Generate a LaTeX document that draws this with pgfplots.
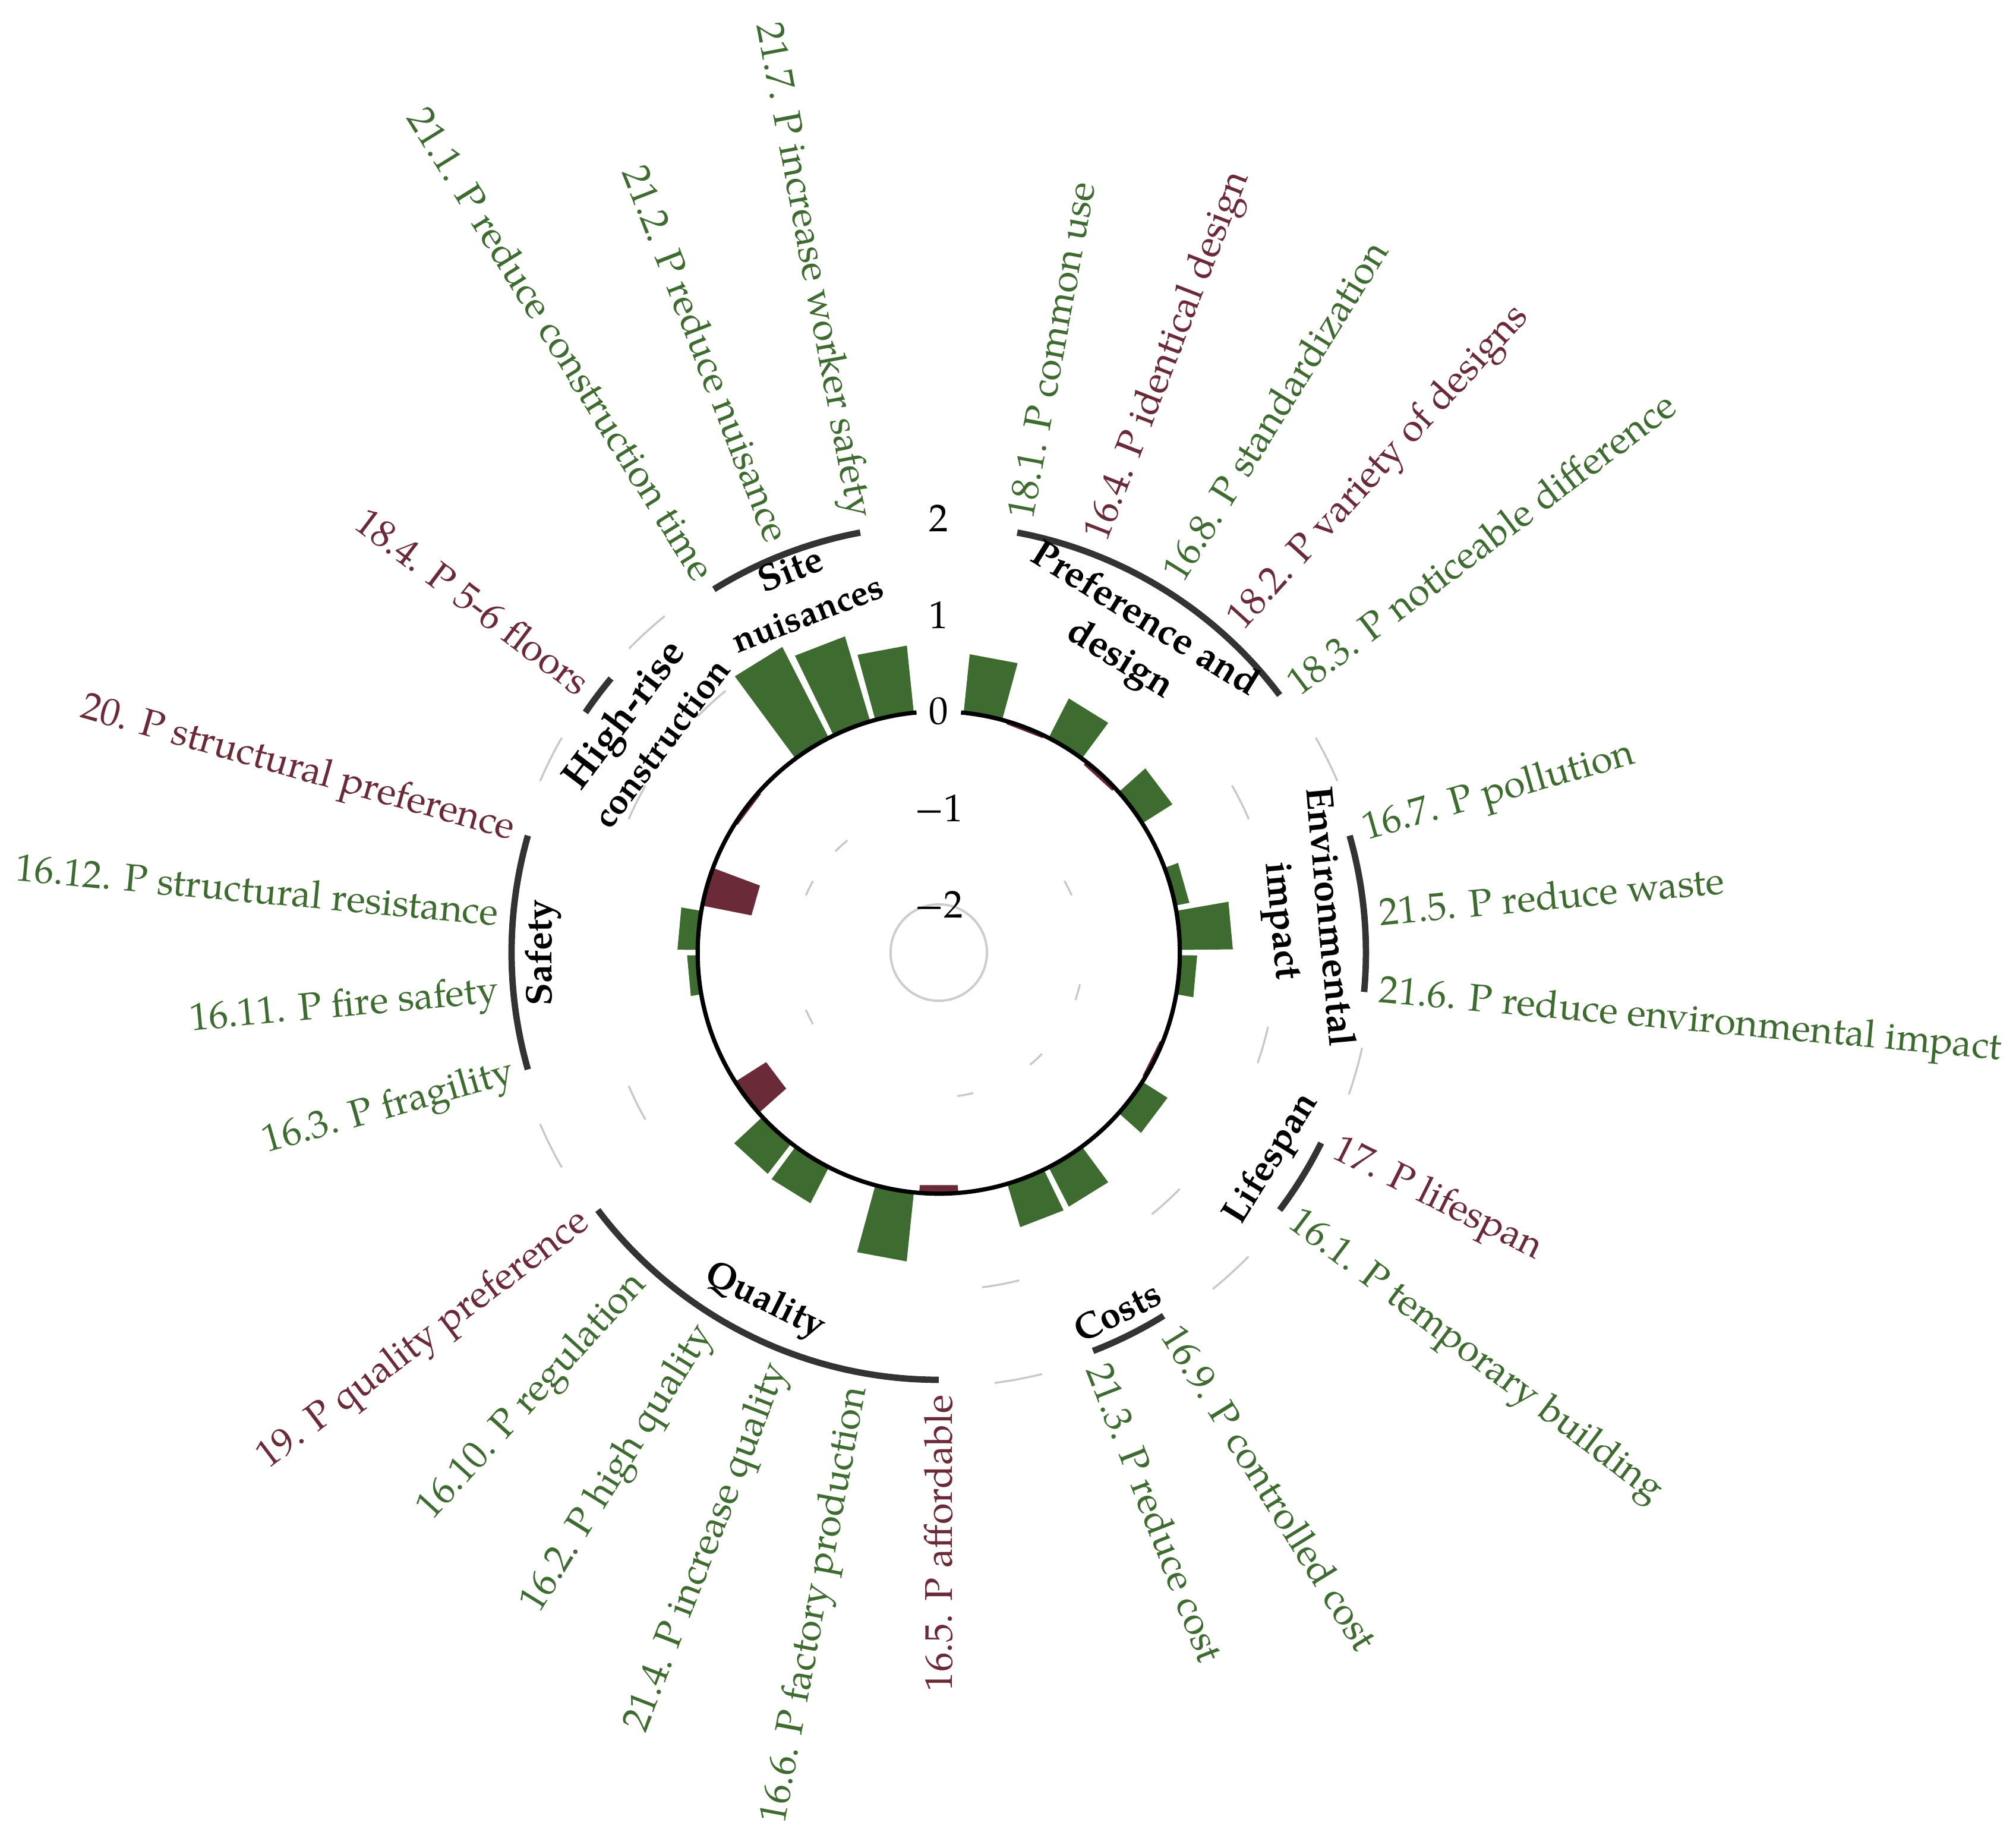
\documentclass[border=0pt]{standalone}
\usepackage{pgfplots}
\pgfplotsset{compat=1.18}
\usepgfplotslibrary{polar}
\usetikzlibrary{calc}
\usepackage{fontspec}
\setmainfont{TeX Gyre Pagella}
\definecolor{cg}{HTML}{3E6B2F}
\definecolor{cm}{HTML}{6B2A37}
\definecolor{arcc}{HTML}{333333}
\definecolor{gridc}{HTML}{C8C8C8}
\newcommand\lab{\fontsize{10.9}{13}\selectfont}
\newcommand\grp{\fontsize{10.5}{13.2}\selectfont\bfseries}
\newcommand\gs[1]{\fontsize{#1}{13.2}\selectfont}
\begin{document}
\begin{tikzpicture}
\begin{polaraxis}[
  hide axis, clip=false, scale only axis,
  width=9.567cm, height=9.567cm,
  xmin=0, xmax=360, ymin=0, ymax=5,
  % x = slot index (34 slots, clockwise from top), y = value (0 on the black circle)
  x filter/.expression={mod(450-x*360/34,360)},
  y filter/.expression={y+2.5},
  every axis plot/.append style={mark=none, draw=none},
]
% Preference and design
\addplot[fill=cg] coordinates {(0.56,0) (0.56,0.61) (1.44,0.61) (1.44,0)};
\addplot[fill=cm] coordinates {(1.56,0) (1.56,-0.03) (2.44,-0.03) (2.44,0)};
\addplot[fill=cg] coordinates {(2.56,0) (2.56,0.46) (3.44,0.46) (3.44,0)};
\addplot[fill=cm] coordinates {(3.56,0) (3.56,-0.04) (4.44,-0.04) (4.44,0)};
\addplot[fill=cg] coordinates {(4.56,0) (4.56,0.37) (5.44,0.37) (5.44,0)};
% Environmental impact
\addplot[fill=cg] coordinates {(6.56,0) (6.56,0.15) (7.44,0.15) (7.44,0)};
\addplot[fill=cg] coordinates {(7.56,0) (7.56,0.55) (8.44,0.55) (8.44,0)};
\addplot[fill=cg] coordinates {(8.56,0) (8.56,0.18) (9.44,0.18) (9.44,0)};
% Lifespan
\addplot[fill=cm] coordinates {(10.56,0) (10.56,-0.03) (11.44,-0.03) (11.44,0)};
\addplot[fill=cg] coordinates {(11.56,0) (11.56,0.31) (12.44,0.31) (12.44,0)};
% Costs
\addplot[fill=cg] coordinates {(13.56,0) (13.56,0.46) (14.44,0.46) (14.44,0)};
\addplot[fill=cg] coordinates {(14.56,0) (14.56,0.47) (15.44,0.47) (15.44,0)};
% Quality
\addplot[fill=cm] coordinates {(16.56,0) (16.56,-0.08) (17.44,-0.08) (17.44,0)};
\addplot[fill=cg] coordinates {(17.56,0) (17.56,0.72) (18.44,0.72) (18.44,0)};
\addplot[fill=cg] coordinates {(18.56,0) (18.56,0.02) (19.44,0.02) (19.44,0)};
\addplot[fill=cg] coordinates {(19.56,0) (19.56,0.42) (20.44,0.42) (20.44,0)};
\addplot[fill=cg] coordinates {(20.56,0) (20.56,0.40) (21.44,0.40) (21.44,0)};
\addplot[fill=cm] coordinates {(21.56,0) (21.56,-0.38) (22.44,-0.38) (22.44,0)};
% Safety
\addplot[fill=cg] coordinates {(23.56,0) (23.56,0.02) (24.44,0.02) (24.44,0)};
\addplot[fill=cg] coordinates {(24.56,0) (24.56,0.11) (25.44,0.11) (25.44,0)};
\addplot[fill=cg] coordinates {(25.56,0) (25.56,0.21) (26.44,0.21) (26.44,0)};
\addplot[fill=cm] coordinates {(26.56,0) (26.56,-0.52) (27.44,-0.52) (27.44,0)};
% High-rise construction
\addplot[fill=cm] coordinates {(28.56,0) (28.56,-0.03) (29.44,-0.03) (29.44,0)};
% Site nuisances
\addplot[fill=cg] coordinates {(30.56,0) (30.56,1.06) (31.44,1.06) (31.44,0)};
\addplot[fill=cg] coordinates {(31.56,0) (31.56,0.92) (32.44,0.92) (32.44,0)};
\addplot[fill=cg] coordinates {(32.56,0) (32.56,0.70) (33.44,0.70) (33.44,0)};
\coordinate (O) at (axis cs:0,0);
\coordinate (E) at (axis cs:0,1);
\end{polaraxis}
\path let \p1=($(E)-(O)$), \n1={veclen(\x1,\y1)} in \pgfextra{\xdef\Upt{\n1}};
\begin{scope}[shift={(O)}, x=\Upt, y=\Upt]
% inner grey circle (value -2)
\draw[gray!40, line width=0.65pt] (0,0) circle[radius={0.5*\Upt}];
% zero line
\draw[black, line width=1.2pt] (84.7:2.5) arc[start angle=84.7, end angle=-264.7, radius={2.5*\Upt}];
% grid pieces in the gaps
\foreach \g in {6,10,13,16,23,28,30}{
  \foreach \r in {4.5,3.5,1.5}{
    \draw[gridc, line width=0.55pt] ({90-\g*360/34+3.2}:\r) arc[start angle={90-\g*360/34+3.2}, end angle={90-\g*360/34-3.2}, radius={\r*\Upt}];
  }
}
% scale labels
\node[font=\lab] at (90:4.5) {2};
\node[font=\lab] at (90:3.5) {1};
\node[font=\lab] at (90:2.5) {0};
\node[font=\lab] at (90:1.5) {−1};
\node[font=\lab] at (90:0.5) {−2};
% group arcs
\tikzset{garc/.style={arcc, line width=1.8pt}}
\draw[garc] (79.412:4.43) arc[start angle=79.412, end angle=37.059, radius={4.43*\Upt}];
\draw[garc] (15.882:4.43) arc[start angle=15.882, end angle=-5.294, radius={4.43*\Upt}];
\draw[garc] (-26.471:4.43) arc[start angle=-26.471, end angle=-37.059, radius={4.43*\Upt}];
\draw[garc] (-58.235:4.43) arc[start angle=-58.235, end angle=-68.824, radius={4.43*\Upt}];
\draw[garc] (-90:4.43) arc[start angle=-90, end angle=-142.941, radius={4.43*\Upt}];
\draw[garc] (-164.118:4.43) arc[start angle=-164.118, end angle=-195.882, radius={4.43*\Upt}];
\draw[garc] (145.8:4.43) arc[start angle=145.8, end angle=140.1, radius={4.43*\Upt}];
\draw[garc] (121.765:4.43) arc[start angle=121.765, end angle=100.588, radius={4.43*\Upt}];
% group labels
\tikzset{gl/.style={font=\grp, align=center, inner sep=0pt}}
\node[gl, rotate=-31.765] at (58.235:3.8) {\gs{10.8}Preference and\\\gs{10.8}design};
\node[gl, rotate=-84.706] at (5.294:3.8) {\gs{10.8}Environmental\\\gs{10.8}impact};
\node[gl, rotate=58.235] at (-31.765:4.07) {\gs{10.4}Lifespan};
\node[gl, rotate=26.471] at (-63.529:4.16) {\gs{10.4}Costs};
\node[gl, rotate=-26.471] at (-116.471:4.05) {\gs{10.4}Quality};
\node[gl, rotate=90] at (180:4.1) {\gs{10.4}Safety};
\node[gl, rotate=52.941] at (142.941:3.87) {\gs{11.3}High-rise\\\gs{10}construction};
\node[gl, rotate=21.176] at (111.176:4.02) {\gs{10.5}Site\\\gs{10}nuisances};
% item labels
\tikzset{rl/.style={font=\lab, anchor=west, inner sep=0pt}, ll/.style={font=\lab, anchor=east, inner sep=0pt}}
\node[rl, text=cg, rotate=79.412] at (79.412:4.58) {18.1. P common use};
\node[rl, text=cm, rotate=68.824] at (68.824:4.58) {16.4. P identical design};
\node[rl, text=cg, rotate=58.235] at (58.235:4.58) {16.8. P standardization};
\node[rl, text=cm, rotate=47.647] at (47.647:4.58) {18.2. P variety of designs};
\node[rl, text=cg, rotate=37.059] at (37.059:4.58) {18.3. P noticeable difference};
\node[rl, text=cg, rotate=15.882] at (15.882:4.58) {16.7. P pollution};
\node[rl, text=cg, rotate=5.294] at (5.294:4.58) {21.5. P reduce waste};
\node[rl, text=cg, rotate=-5.294] at (-5.294:4.58) {21.6. P reduce environmental impact};
\node[rl, text=cm, rotate=-26.471] at (-26.471:4.58) {17. P lifespan};
\node[rl, text=cg, rotate=-37.059] at (-37.059:4.58) {16.1. P temporary building};
\node[rl, text=cg, rotate=-58.235] at (-58.235:4.58) {16.9. P controlled cost};
\node[rl, text=cg, rotate=-68.824] at (-68.824:4.58) {21.3. P reduce cost};
\node[ll, text=cm, rotate=90] at (-90:4.58) {16.5. P affordable};
\node[ll, text=cg, rotate=79.412] at (-100.588:4.58) {16.6. P factory production};
\node[ll, text=cg, rotate=68.824] at (-111.176:4.58) {21.4. P increase quality};
\node[ll, text=cg, rotate=58.235] at (-121.765:4.58) {16.2. P high quality};
\node[ll, text=cg, rotate=47.647] at (-132.353:4.58) {16.10. P regulation};
\node[ll, text=cm, rotate=37.059] at (-142.941:4.58) {19. P quality preference};
\node[ll, text=cg, rotate=15.882] at (-164.118:4.58) {16.3. P fragility};
\node[ll, text=cg, rotate=5.294] at (-174.706:4.58) {16.11. P fire safety};
\node[ll, text=cg, rotate=-5.294] at (174.706:4.58) {16.12. P structural resistance};
\node[ll, text=cm, rotate=-15.882] at (164.118:4.58) {20. P structural preference};
\node[ll, text=cm, rotate=-37.059] at (142.941:4.58) {18.4. P 5-6 floors};
\node[ll, text=cg, rotate=-58.235] at (121.765:4.58) {21.1. P reduce construction time};
\node[ll, text=cg, rotate=-68.824] at (111.176:4.58) {21.2. P reduce nuisance};
\node[ll, text=cg, rotate=-79.412] at (100.588:4.58) {21.7. P increase worker safety};
\end{scope}
\pgfresetboundingbox
\path ($(O)+(-9.313,-8.753)$) rectangle ($(O)+(10.687,9.449)$);
\end{tikzpicture}
\end{document}
